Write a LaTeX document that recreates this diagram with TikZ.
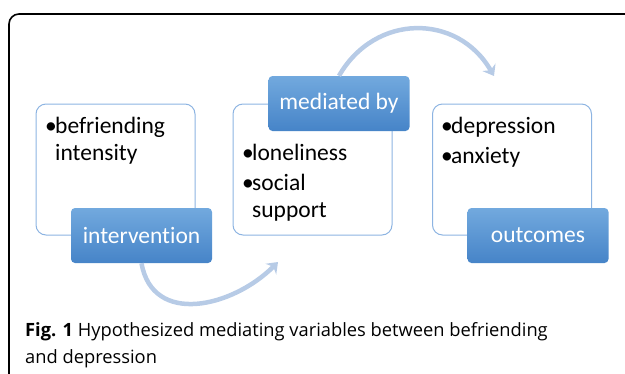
\documentclass[tikz,border=0pt]{standalone}
\usepackage{fontspec}
\setmainfont{Carlito}[Ligatures=NoCommon]
\newfontfamily\capfont{Open Sans}
\usetikzlibrary{arrows.meta}

\definecolor{boxline}{HTML}{8DB4E2}
\definecolor{bluetop}{HTML}{72A9DE}
\definecolor{bluebot}{HTML}{4684C8}
\definecolor{arcblue}{HTML}{B7CBE6}

\tikzset{
  listbox/.style={draw=boxline, line width=1pt, fill=white, rounded corners=10pt,
    minimum width=159pt, minimum height=131pt},
  labelbox/.style={rounded corners=4pt, top color=bluetop, bottom color=bluebot,
    text=white, minimum width=141pt, minimum height=55pt,
    font=\fontsize{23.5}{27}\selectfont},
  listtext/.style={anchor=north west, inner sep=0pt, align=left,
    font=\fontsize{23.5}{27}\selectfont},
  flow/.style={arcblue, line width=4.5pt, -{Stealth[length=10pt,width=15pt]}}
}
\newcommand{\itm}{\makebox[10pt][l]{\textbullet}}
\newcommand{\hng}{\hspace*{10pt}}

\begin{document}
\begin{tikzpicture}[x=1pt,y=-1pt]
  \useasboundingbox (0,0) rectangle (625,373);

  %% frame
  \draw[line width=1.6pt, rounded corners=10pt] (9,420) -- (9,14) -- (680,14);

  %% lists
  \node[listbox] (cause) at (115.5,169.5) {};
  \node[listbox] (means) at (312.5,169.5) {};
  \node[listbox] (result) at (512,169.5) {};

  \node[listtext] (causetext) at (45,117) {\itm befriending\\ \hng intensity};
  \node[listtext] (meanstext) at (242,144) {\itm loneliness\\[3pt] \itm social\\ \hng support};
  \node[listtext] (resulttext) at (441,117) {\itm depression\\[3pt] \itm anxiety};

  %% labels
  \node[labelbox] (intervention) at (141.5,235.5) {intervention};
  \node[labelbox] (mediated) at (339,103.5) {mediated by};
  \node[labelbox] (outcomes) at (538,235.5) {outcomes};

  %% arcs
  \coordinate (meet) at (278,262);
  \coordinate (reach) at (494,76);
  \draw[flow] (intervention.south) to[out=-80, in=-135, looseness=1.2] (meet);
  \draw[flow] (mediated.north) to[out=60, in=120, looseness=1.2] (reach);

  %% caption
  \node[anchor=north west, inner sep=0pt, align=left,
    font=\capfont\fontsize{18.3}{27}\selectfont] (caption) at (25,322)
    {\textbf{Fig. 1} Hypothesized mediating variables between befriending\\
     and depression};
\end{tikzpicture}
\end{document}
